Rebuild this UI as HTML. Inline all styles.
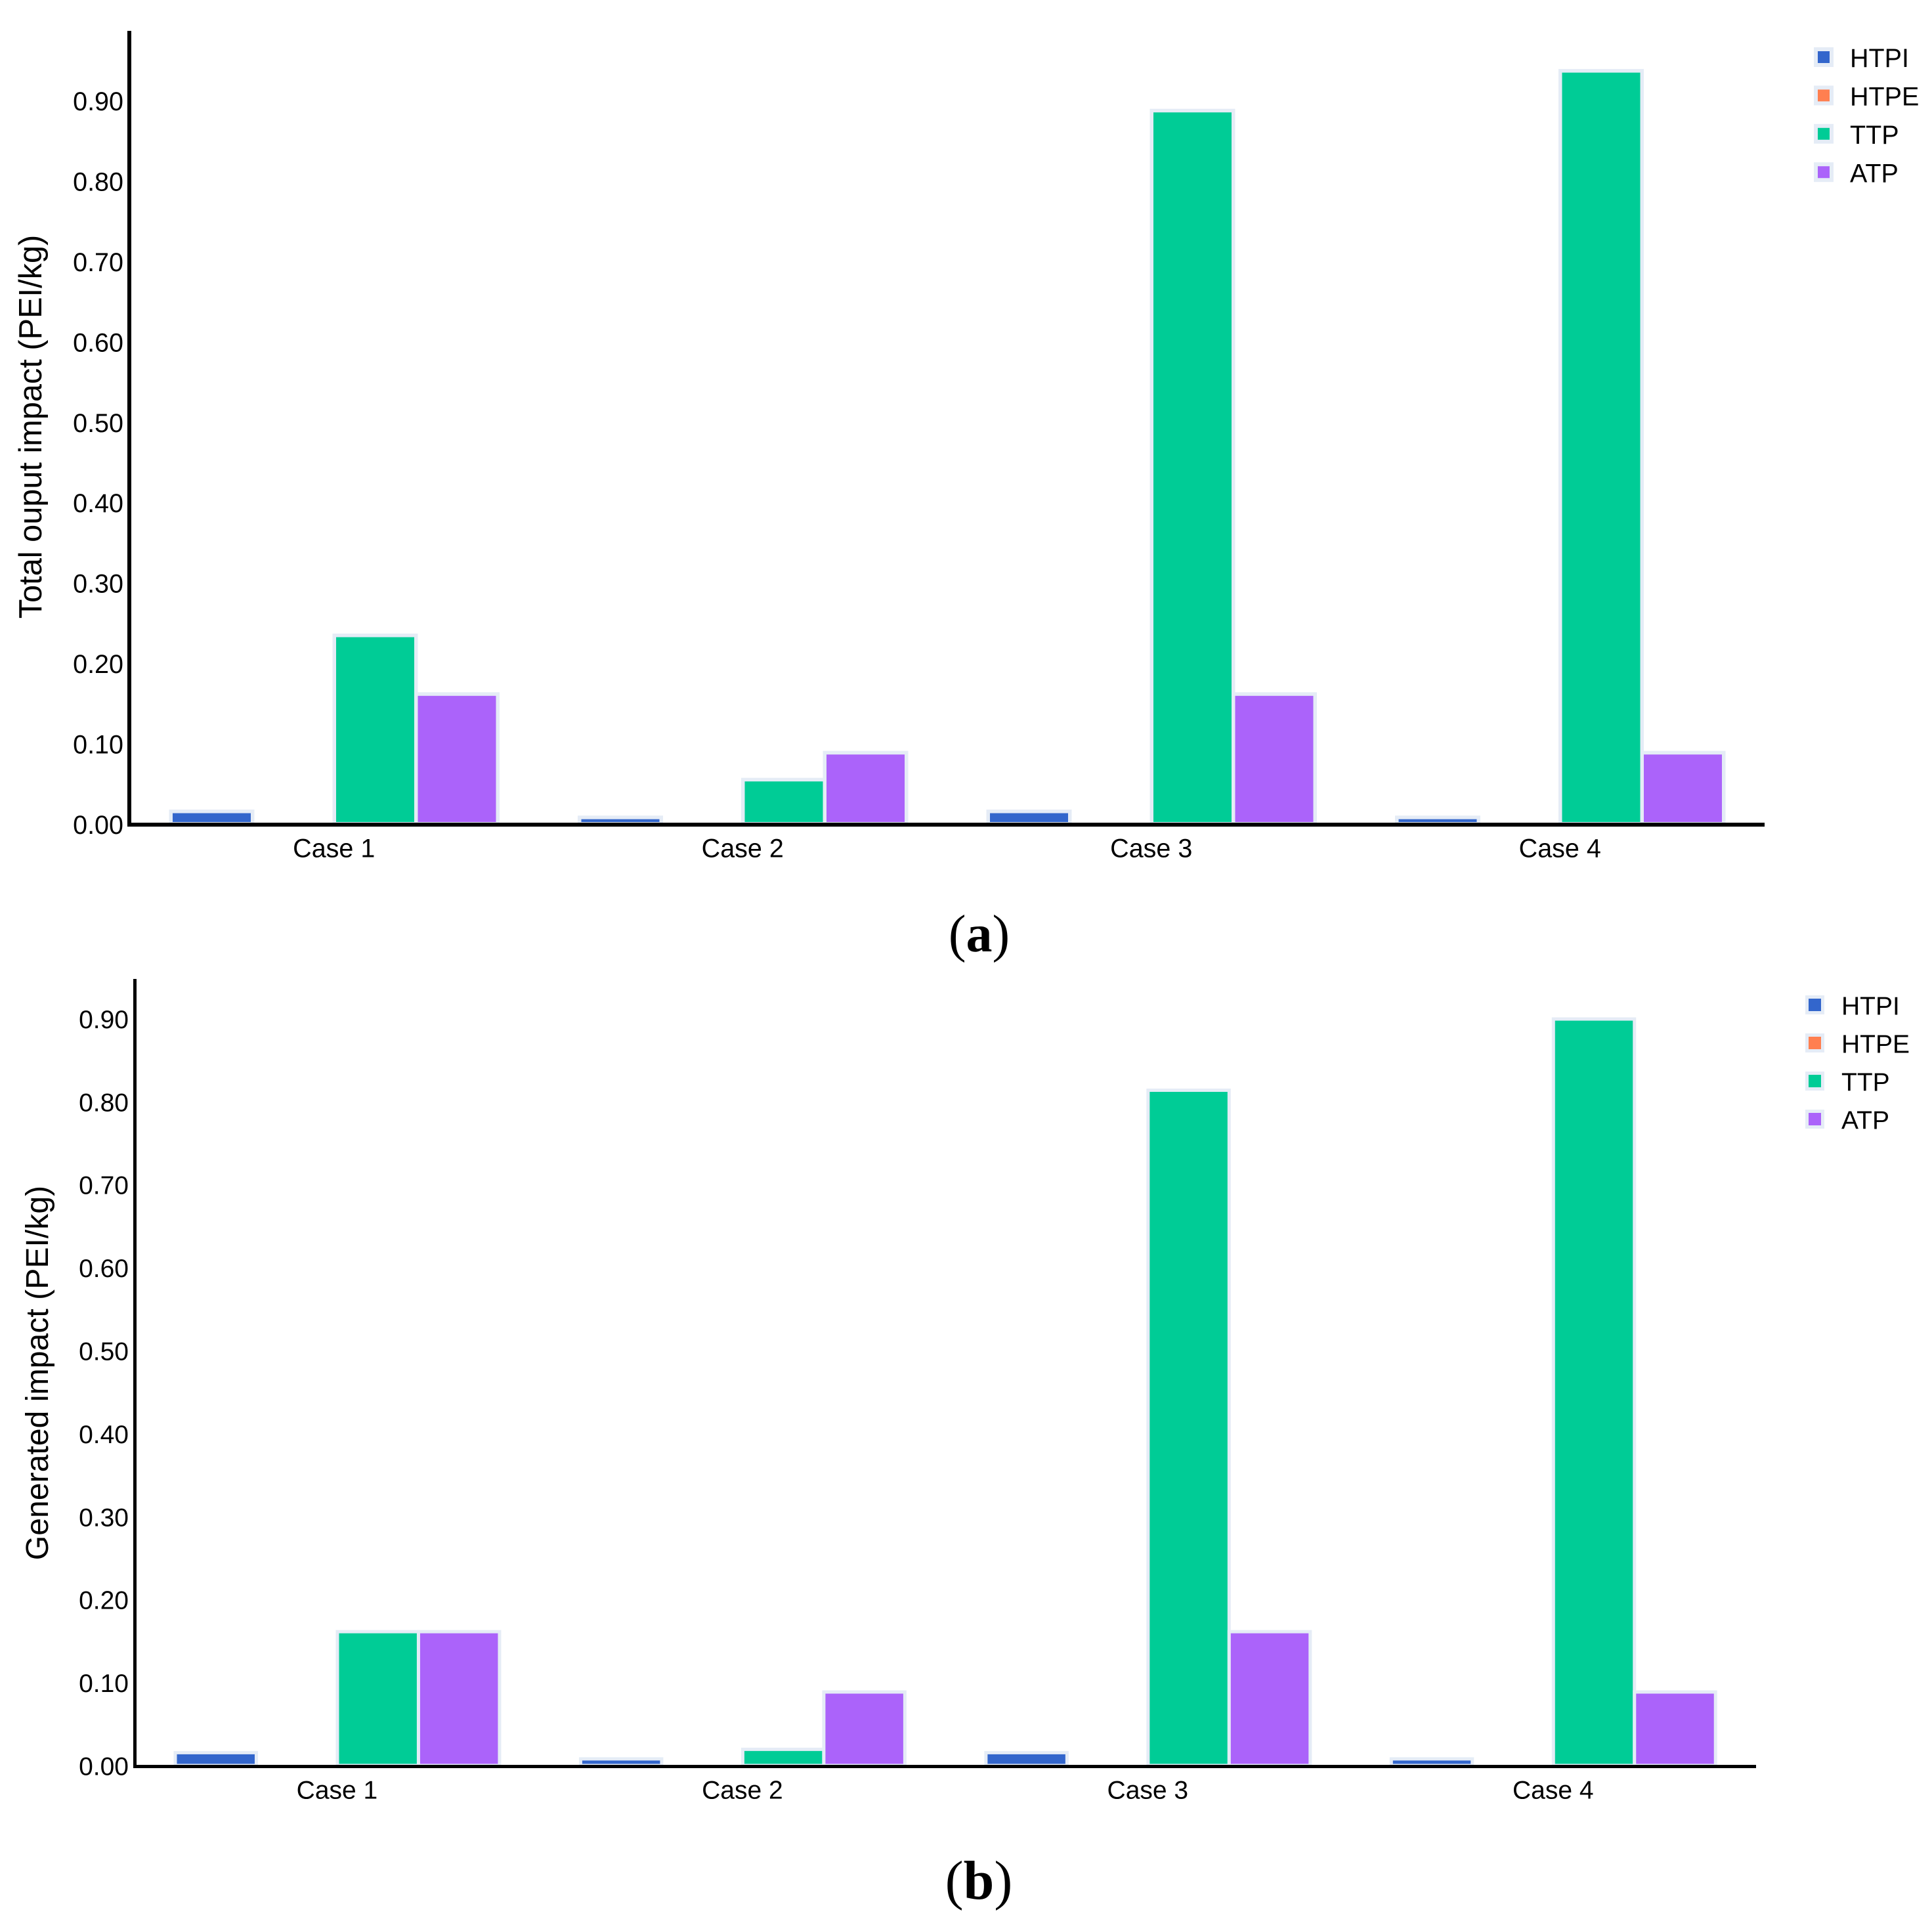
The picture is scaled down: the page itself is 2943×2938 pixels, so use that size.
<!DOCTYPE html>
<html lang="en">
<head>
<meta charset="utf-8">
<title>Total output and generated impact by case</title>
<style>
html,body{margin:0;padding:0;background:#fff;width:2943px;height:2938px;overflow:hidden}
svg{display:block;position:absolute;left:0;top:0}
text{font-family:"Liberation Sans",sans-serif;fill:#000}
</style>
</head>
<body>
<svg id="figure" width="2943" height="2938" viewBox="0 0 2943 2938" xmlns="http://www.w3.org/2000/svg">
<g id="chart-a"></g>
<g id="chart-b"></g>
<text transform="translate(63,650) rotate(-90)" text-anchor="middle" font-size="48.7">Total ouput impact (PEI/kg)</text>
<text transform="translate(73,2091) rotate(-90)" text-anchor="middle" font-size="48.2">Generated impact (PEI/kg)</text>
<text x="1491.5" y="1449" text-anchor="middle" font-size="80" style="font-family:'Liberation Serif',serif">(<tspan font-weight="bold">a</tspan>)</text>
<text x="1491" y="2892" text-anchor="middle" font-size="84" style="font-family:'Liberation Serif',serif">(<tspan font-weight="bold">b</tspan>)</text>
</svg>
<script>
const categories = ['Case 1', 'Case 2', 'Case 3', 'Case 4'];
const seriesNames = ['HTPI', 'HTPE', 'TTP', 'ATP'];
const seriesColors = ['#3366CC', '#FF7F50', '#00CC96', '#AB63FA'];
const yTickValues = [0, 0.1, 0.2, 0.3, 0.4, 0.5, 0.6, 0.7, 0.8, 0.9];
const yTickLabels = ['0.00', '0.10', '0.20', '0.30', '0.40', '0.50', '0.60', '0.70', '0.80', '0.90'];

const htpiA = [0.0155, 0.008, 0.0155, 0.008];
const htpeA = [0, 0, 0, 0];
const ttpA = [0.2345, 0.055, 0.8875, 0.937];
const atpA = [0.1615, 0.0885, 0.1615, 0.0885];

const htpiB = [0.0155, 0.008, 0.0155, 0.008];
const htpeB = [0, 0, 0, 0];
const ttpB = [0.1613, 0.0195, 0.8137, 0.8995];
const atpB = [0.1613, 0.0886, 0.1613, 0.0886];

const SVG_NS = 'http://www.w3.org/2000/svg';

function drawChart(groupId, prefix, seriesValues, cfg) {
  const root = document.getElementById(groupId);
  const xScale = (catIndex) => cfg.xStart + (catIndex + 0.5) * (cfg.xEnd - cfg.xStart) / categories.length;
  const yScale = (value) => cfg.yZero - value * cfg.yUnit;
  const slot = (cfg.xEnd - cfg.xStart) / categories.length / 5;

  seriesValues.forEach(function (values, s) {
    values.forEach(function (v, c) {
      const left = xScale(c) + (s - seriesValues.length / 2) * slot;
      const rect = document.createElementNS(SVG_NS, 'rect');
      rect.setAttribute('x', left);
      rect.setAttribute('y', yScale(v));
      rect.setAttribute('width', slot);
      rect.setAttribute('height', Math.max(0, cfg.yZero - yScale(v)));
      rect.setAttribute('fill', seriesColors[s]);
      rect.setAttribute('stroke', '#E5ECF6');
      rect.setAttribute('stroke-width', cfg.barStroke);
      
      
      root.appendChild(rect);
    });
  });

  yTickValues.forEach(function (t, i) {
    const label = document.createElementNS(SVG_NS, 'text');
    label.setAttribute('x', cfg.yLabelX);
    label.setAttribute('y', yScale(t) + cfg.yLabelDy);
    label.setAttribute('text-anchor', 'end');
    label.setAttribute('font-size', cfg.tickFont);
    
    
    label.textContent = yTickLabels[i];
    root.appendChild(label);
  });

  categories.forEach(function (name, c) {
    const label = document.createElementNS(SVG_NS, 'text');
    label.setAttribute('x', xScale(c) - 0.5);
    label.setAttribute('y', cfg.xLabelY);
    label.setAttribute('text-anchor', 'middle');
    label.setAttribute('font-size', cfg.tickFont);
    
    
    label.textContent = name;
    root.appendChild(label);
  });

  const yAxis = document.createElementNS(SVG_NS, 'rect');
  yAxis.setAttribute('x', cfg.axisLeft);
  yAxis.setAttribute('y', cfg.axisTop);
  yAxis.setAttribute('width', cfg.axisWidth);
  yAxis.setAttribute('height', cfg.axisBottom - cfg.axisTop);
  yAxis.setAttribute('fill', '#000');
  
  
  root.appendChild(yAxis);

  const xAxis = document.createElementNS(SVG_NS, 'rect');
  xAxis.setAttribute('x', cfg.axisLeft);
  xAxis.setAttribute('y', cfg.axisBottom - cfg.axisWidth);
  xAxis.setAttribute('width', cfg.xEnd - cfg.axisLeft);
  xAxis.setAttribute('height', cfg.axisWidth);
  xAxis.setAttribute('fill', '#000');
  
  
  root.appendChild(xAxis);

  seriesNames.forEach(function (name, s) {
    const cy = cfg.legendY + s * cfg.legendStep;
    const swatch = document.createElementNS(SVG_NS, 'rect');
    swatch.setAttribute('x', cfg.legendX);
    swatch.setAttribute('y', cy - cfg.legendBox / 2);
    swatch.setAttribute('width', cfg.legendBox);
    swatch.setAttribute('height', cfg.legendBox);
    swatch.setAttribute('fill', seriesColors[s]);
    swatch.setAttribute('stroke', '#E5ECF6');
    swatch.setAttribute('stroke-width', cfg.legendStroke);
    
    
    root.appendChild(swatch);

    const text = document.createElementNS(SVG_NS, 'text');
    text.setAttribute('x', cfg.legendTextX);
    text.setAttribute('y', cy + cfg.legendDy);
    text.setAttribute('font-size', cfg.legendFont);
    
    
    text.textContent = name;
    root.appendChild(text);
  });
}

drawChart('chart-a', 'chart-a', [htpiA, htpeA, ttpA, atpA], {
  xStart: 198, xEnd: 2688, yZero: 1254.75, yUnit: 1224, barStroke: 5.5,
  axisLeft: 194, axisTop: 47, axisBottom: 1259, axisWidth: 6,
  yLabelX: 188, yLabelDy: 15, xLabelY: 1305.5, tickFont: 39.5,
  legendX: 2766, legendY: 87, legendStep: 58.4, legendBox: 24, legendStroke: 6,
  legendTextX: 2818, legendDy: 15.2, legendFont: 39.5
});

drawChart('chart-b', 'chart-b', [htpiB, htpeB, ttpB, atpB], {
  xStart: 205.25, xEnd: 2675, yZero: 2689, yUnit: 1264, barStroke: 5,
  axisLeft: 203, axisTop: 1491, axisBottom: 2693, axisWidth: 5,
  yLabelX: 196, yLabelDy: 14.5, xLabelY: 2739.5, tickFont: 39,
  legendX: 2752.5, legendY: 1530.5, legendStep: 58, legendBox: 24, legendStroke: 5,
  legendTextX: 2805, legendDy: 15, legendFont: 39
});
</script>
</body>
</html>
